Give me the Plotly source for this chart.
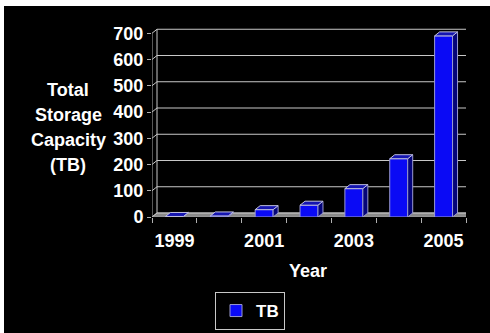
import plotly.graph_objects as go

years = ["1999", "2000", "2001", "2002", "2003", "2004", "2005"]
capacity_tb = [2, 4, 28, 45, 108, 222, 690]
y_ticks = [0, 100, 200, 300, 400, 500, 600, 700]
x_label_years = ["1999", "2001", "2003", "2005"]
series_name = "TB"
y_title_lines = ["Total", "Storage", "Capacity", "(TB)"]
x_title = "Year"

FONT = "Liberation Sans, Arial, sans-serif"
WHITE = "#ffffff"
GRID = "#c8c8c8"
FS = 18

# geometry (pixel layout -> plotly margins)
L, R, T, B = 152, 24, 28, 116
W, H = 490, 333
PW, PH = W - L - R, H - T - B
XR = [-0.5, len(years) - 0.5]
YR = [0, 720]
DX = 5 / (PW / (XR[1] - XR[0]))       # depth offset in category units
DY = 4 / (PH / (YR[1] - YR[0]))       # depth offset in data units
BW = 0.4

xs = list(range(len(years)))

def px_to_paper_x(p):
    return (p - L) / PW

def px_to_paper_y(p):
    return (H - B - p) / PH

fig = go.Figure()

shapes = []
# floor
shapes.append(dict(type="path", xref="x", yref="y", layer="below",
                   path=f"M{XR[0]},0 L{XR[1]},0 L{XR[1]+DX},{DY} L{XR[0]+DX},{DY} Z",
                   fillcolor="#8a8a8a", line=dict(color="#a0a0a0", width=1)))
# back wall gridlines and tick connectors
for v in y_ticks:
    shapes.append(dict(type="line", xref="x", yref="y", layer="below",
                       x0=XR[0] + DX, x1=XR[1] + DX, y0=v + DY, y1=v + DY,
                       line=dict(color=GRID, width=1)))
    shapes.append(dict(type="line", xref="x", yref="y", layer="below",
                       x0=XR[0], x1=XR[0] + DX, y0=v, y1=v + DY,
                       line=dict(color=GRID, width=1)))
# back wall vertical edges
for xe in (XR[0] + DX, XR[1] + DX):
    shapes.append(dict(type="line", xref="x", yref="y", layer="below",
                       x0=xe, x1=xe, y0=DY, y1=y_ticks[-1] + DY,
                       line=dict(color=GRID, width=1)))
# front axis line
shapes.append(dict(type="line", xref="x", yref="y", layer="below",
                   x0=XR[0], x1=XR[0], y0=0, y1=y_ticks[-1],
                   line=dict(color="#b0b0b0", width=1)))
# white border strips (top and left)
shapes.append(dict(type="rect", xref="paper", yref="paper", layer="above",
                   x0=px_to_paper_x(0), x1=px_to_paper_x(W), y0=px_to_paper_y(6), y1=px_to_paper_y(0),
                   fillcolor="white", line=dict(width=0)))
shapes.append(dict(type="rect", xref="paper", yref="paper", layer="above",
                   x0=px_to_paper_x(0), x1=px_to_paper_x(4), y0=px_to_paper_y(H), y1=px_to_paper_y(0),
                   fillcolor="white", line=dict(width=0)))

# front faces
fig.add_trace(go.Bar(x=xs, y=capacity_tb, width=BW, name=series_name,
                     marker=dict(color="#0a0af5", line=dict(color="#9a9ad0", width=1)),
                     showlegend=True))

# side faces
sx, sy = [], []
for x, v in zip(xs, capacity_tb):
    r = x + BW / 2
    sx += [r, r + DX, r + DX, r, r, None]
    sy += [0, DY, v + DY, v, 0, None]
fig.add_trace(go.Scatter(x=sx, y=sy, mode="lines", fill="toself", fillcolor="#05057a",
                         line=dict(color="#9a9ad0", width=1), showlegend=False, hoverinfo="skip"))
# top faces
tx, ty = [], []
for x, v in zip(xs, capacity_tb):
    l, r = x - BW / 2, x + BW / 2
    tx += [l, r, r + DX, l + DX, l, None]
    ty += [v, v, v + DY, v + DY, v, None]
fig.add_trace(go.Scatter(x=tx, y=ty, mode="lines", fill="toself", fillcolor="#1515b0",
                         line=dict(color="#c0c0e0", width=1), showlegend=False, hoverinfo="skip"))

tickfont = dict(family=FONT, size=FS, color=WHITE, weight="bold")

annotations = []
for i, line in enumerate(y_title_lines):
    annotations.append(dict(text=line, xref="paper", yref="paper",
                            x=px_to_paper_x(68), y=px_to_paper_y(90 + 25 * i),
                            xanchor="center", yanchor="middle", showarrow=False,
                            font=dict(family=FONT, size=FS, color=WHITE, weight="bold")))
annotations.append(dict(text=x_title, xref="paper", yref="paper",
                        x=px_to_paper_x(308), y=px_to_paper_y(271), xanchor="center", yanchor="middle",
                        showarrow=False, font=dict(family=FONT, size=FS, color=WHITE, weight="bold")))

fig.update_layout(
    width=W, height=H,
    margin=dict(l=L, r=R, t=T, b=B, pad=0, autoexpand=False),
    paper_bgcolor="black", plot_bgcolor="black",
    shapes=shapes,
    showlegend=True,
    legend=dict(x=px_to_paper_x(250), y=px_to_paper_y(330), xanchor="center", yanchor="bottom",
                orientation="h", bgcolor="black", bordercolor="#c8c8c8", borderwidth=1,
                font=dict(family=FONT, size=17, color=WHITE, weight="bold"),
                itemwidth=30, tracegroupgap=0),
    xaxis=dict(range=XR, showgrid=False, zeroline=False, showline=False,
               tickmode="array",
               tickvals=[years.index(y) for y in x_label_years],
               ticktext=x_label_years, ticks="", tickfont=tickfont,
               ticklabelstandoff=11,
               minor=dict(tickvals=[i - 0.5 for i in range(len(years) + 1)],
                          ticks="outside", ticklen=5, tickcolor="#b0b0b0", showgrid=False)),
    yaxis=dict(range=YR, showgrid=False, zeroline=False, showline=False,
               tickmode="array", tickvals=y_ticks, ticks="outside", ticklen=4,
               tickcolor="#b0b0b0", tickfont=tickfont),
    annotations=annotations,
)

fig.write_html("out.html")
